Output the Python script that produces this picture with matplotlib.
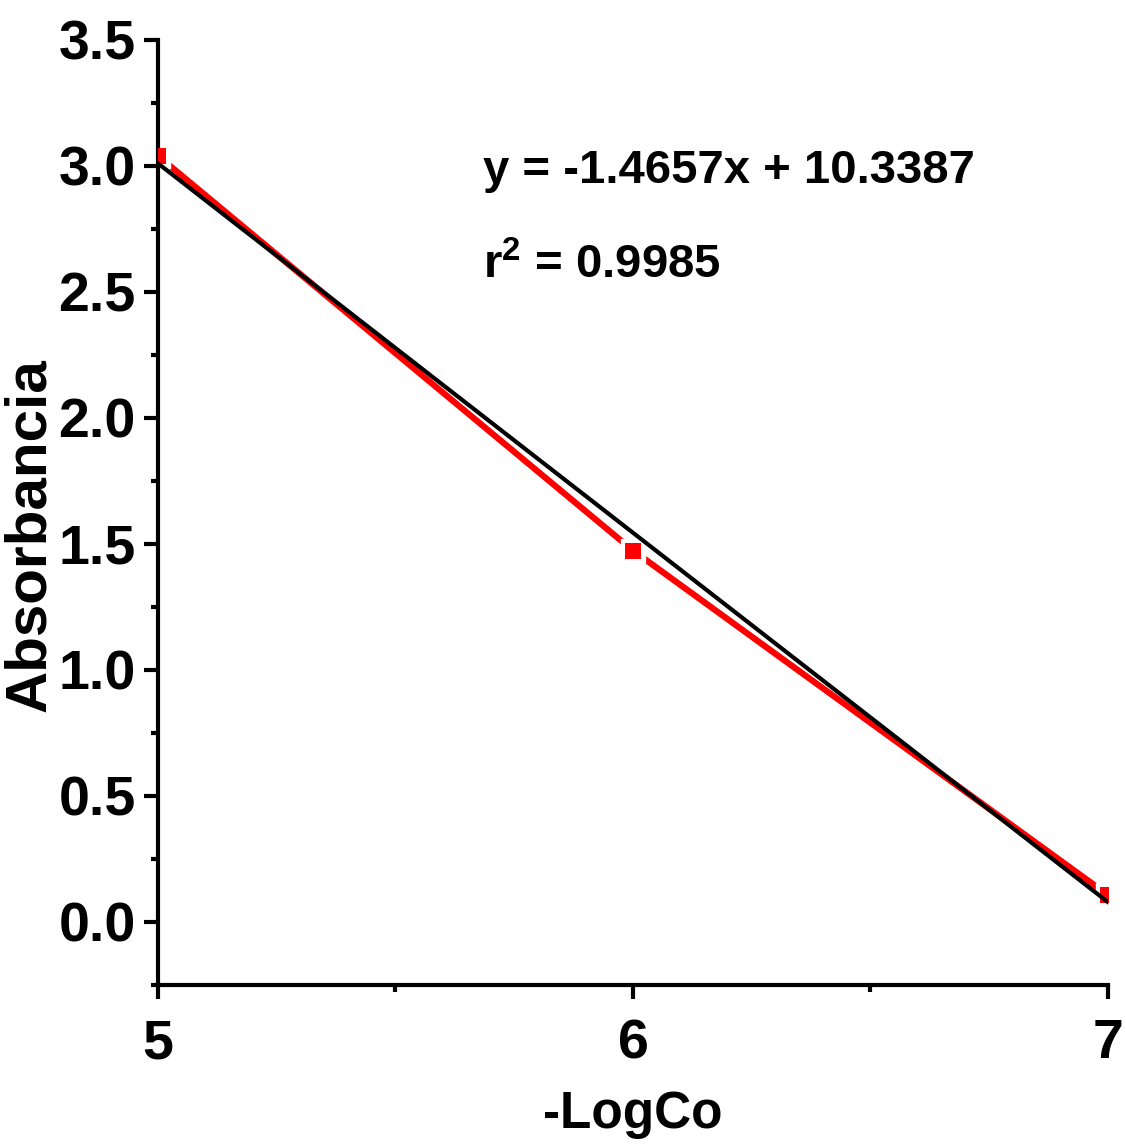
import matplotlib
matplotlib.use("Agg")
import matplotlib.pyplot as plt
from matplotlib.ticker import MultipleLocator, FormatStrFormatter

plt.rcParams['font.family'] = ['Liberation Sans', 'DejaVu Sans']
plt.rcParams['font.weight'] = 'bold'
plt.rcParams['mathtext.fontset'] = 'custom'
plt.rcParams['mathtext.bf'] = 'Liberation Sans:bold'
plt.rcParams['mathtext.rm'] = 'Liberation Sans:bold'

# measured points
logc = [5, 6, 7]
absorb = [3.04, 1.474, 0.107]

# linear fit reported on the chart
slope = -1.4657
intercept = 10.3387
r2 = 0.9985
fit_x = [5, 7]
fit_y = [slope * x + intercept for x in fit_x]

fig = plt.figure(figsize=(11.26, 11.48), dpi=100, facecolor='w')
ax = fig.add_axes([0.1403, 0.1420, 0.8437, 0.8232])

ax.plot(logc, absorb, color='red', lw=4.5, zorder=1)
ax.plot(logc, absorb, ls='none', marker='s', ms=17, color='white', zorder=2)
ax.plot(logc, absorb, ls='none', marker='s', ms=11.5, color='red', mew=0, zorder=3)
ax.plot(fit_x, fit_y, color='black', lw=3, zorder=4)

ax.set_xlim(5, 7)
ax.set_ylim(-0.25, 3.5)
ax.xaxis.set_major_locator(MultipleLocator(1))
ax.xaxis.set_minor_locator(MultipleLocator(0.5))
ax.yaxis.set_major_locator(MultipleLocator(0.5))
ax.yaxis.set_minor_locator(MultipleLocator(0.25))
ax.yaxis.set_major_formatter(FormatStrFormatter('%.1f'))

for s in ['top', 'right']:
    ax.spines[s].set_visible(False)
for s in ['left', 'bottom']:
    ax.spines[s].set_linewidth(3)

ax.tick_params(which='major', direction='out', length=10, width=3, labelsize=40)
ax.tick_params(axis='y', which='major', pad=6)
ax.tick_params(axis='x', which='major', pad=14)
ax.tick_params(which='minor', direction='out', length=5, width=3)

ax.set_xlabel('-LogCo', fontsize=37, fontweight='bold', labelpad=14)
ax.set_ylabel('Absorbancia', fontsize=42, fontweight='bold')
ax.yaxis.set_label_coords(-0.106, 0.476)

ax.text(0.342, 0.849, 'y = %.4fx + %.4f' % (slope, intercept), transform=ax.transAxes,
        fontsize=34, fontweight='bold', va='baseline')
ax.text(0.342, 0.748, r'r$^{\mathbf{2}}$ = %.4f' % r2, transform=ax.transAxes,
        fontsize=34, fontweight='bold', va='baseline')

plt.savefig('out.png', dpi=100, facecolor='w')
